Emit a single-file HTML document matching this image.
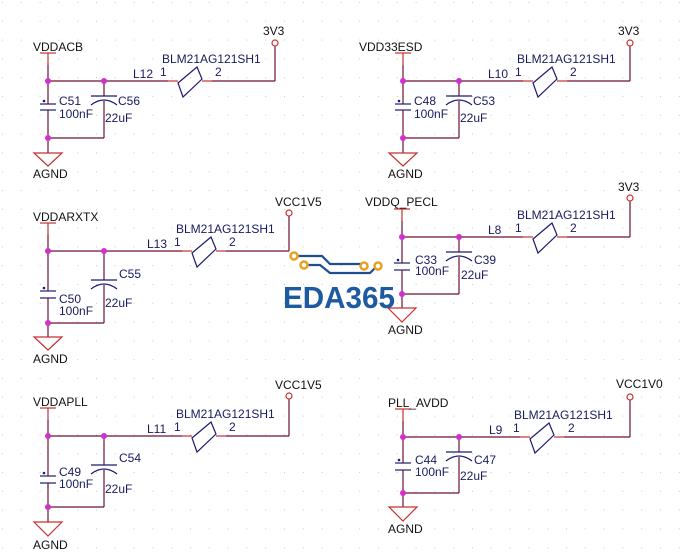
<!DOCTYPE html>
<html><head><meta charset="utf-8"><style>
html,body{margin:0;padding:0;background:#fff}
svg{display:block}
text{font-family:"Liberation Sans",sans-serif;font-size:12px;fill:#1a1a60}
.n{fill:#111}
.w{stroke:#6e1030;stroke-width:1.2;fill:none}
.r{stroke:#c83030;stroke-width:1.2;fill:none}
.b{stroke:#1a1a70;stroke-width:1.2;fill:none}
.j{fill:#d030d0}
</style></head><body>
<svg width="683" height="560" viewBox="0 0 683 560" xmlns="http://www.w3.org/2000/svg">
<defs>
<pattern id="g" x="2" y="2" width="18.8" height="18.8" patternUnits="userSpaceOnUse"><rect width="1" height="1" fill="#c8c8c8"/></pattern>
</defs>
<rect width="683" height="560" fill="url(#g)"/>

<!-- TL -->
<g transform="translate(48,81)">
<line class="r" x1="-8" y1="-28" x2="8" y2="-28"/><line class="r" x1="0" y1="-28" x2="0" y2="-16"/>
<line class="w" x1="0" y1="-16" x2="0" y2="23"/>
<line class="b" x1="-8" y1="23" x2="8" y2="23"/><line class="b" x1="-8" y1="29" x2="8" y2="29"/>
<line class="w" x1="0" y1="29" x2="0" y2="72"/>
<polygon class="r" points="-14,72 14,72 0,85"/>
<line class="w" x1="0" y1="57" x2="56" y2="57"/><line class="w" x1="56" y1="0" x2="56" y2="15"/>
<line class="b" x1="43" y1="15" x2="69" y2="15"/><path class="b" d="M43,24 Q56,14 69,24"/><line class="w" x1="56" y1="20" x2="56" y2="57"/>
<circle cx="-4" cy="20" r="1.3" fill="#1a1a70"/>
<line class="w" x1="0" y1="0" x2="120" y2="0"/><line class="r" x1="120" y1="0" x2="130" y2="0"/>
<polygon class="b" points="130,2 149,-14 154,-2 135,16"/>
<line class="r" x1="154" y1="0" x2="164" y2="0"/><line class="w" x1="164" y1="0" x2="227" y2="0"/>
<line class="w" x1="227" y1="0" x2="227" y2="-35"/><circle class="r" cx="227" cy="-38" r="3"/>
<circle class="j" cx="0" cy="0" r="3"/><circle class="j" cx="56" cy="0" r="3"/><circle class="j" cx="0" cy="57" r="3"/>
<text class="n" x="-15" y="-30">VDDACB</text><text x="85" y="-3">L12</text><text x="112" y="-5">1</text><text x="167" y="-5">2</text>
<text x="114" y="-18">BLM21AG121SH1</text><text x="11" y="24">C51</text><text x="11" y="37">100nF</text>
<text x="70" y="24">C56</text><text x="57" y="41">22uF</text><text class="n" x="-15" y="97">AGND</text><text class="n" x="215" y="-46">3V3</text>
</g>
<!-- TR -->
<g transform="translate(403,81)">
<line class="r" x1="-8" y1="-28" x2="8" y2="-28"/><line class="r" x1="0" y1="-28" x2="0" y2="-16"/>
<line class="w" x1="0" y1="-16" x2="0" y2="23"/>
<line class="b" x1="-8" y1="23" x2="8" y2="23"/><line class="b" x1="-8" y1="29" x2="8" y2="29"/>
<line class="w" x1="0" y1="29" x2="0" y2="72"/>
<polygon class="r" points="-14,72 14,72 0,85"/>
<line class="w" x1="0" y1="57" x2="56" y2="57"/><line class="w" x1="56" y1="0" x2="56" y2="15"/>
<line class="b" x1="43" y1="15" x2="69" y2="15"/><path class="b" d="M43,24 Q56,14 69,24"/><line class="w" x1="56" y1="20" x2="56" y2="57"/>
<circle cx="-4" cy="20" r="1.3" fill="#1a1a70"/>
<line class="w" x1="0" y1="0" x2="120" y2="0"/><line class="r" x1="120" y1="0" x2="130" y2="0"/>
<polygon class="b" points="130,2 149,-14 154,-2 135,16"/>
<line class="r" x1="154" y1="0" x2="164" y2="0"/><line class="w" x1="164" y1="0" x2="227" y2="0"/>
<line class="w" x1="227" y1="0" x2="227" y2="-35"/><circle class="r" cx="227" cy="-38" r="3"/>
<circle class="j" cx="0" cy="0" r="3"/><circle class="j" cx="56" cy="0" r="3"/><circle class="j" cx="0" cy="57" r="3"/>
<text class="n" x="-44" y="-30">VDD33ESD</text><text x="85" y="-3">L10</text><text x="112" y="-5">1</text><text x="167" y="-5">2</text>
<text x="114" y="-18">BLM21AG121SH1</text><text x="11" y="24">C48</text><text x="11" y="37">100nF</text>
<text x="70" y="24">C53</text><text x="57" y="41">22uF</text><text class="n" x="-15" y="97">AGND</text><text class="n" x="215" y="-46">3V3</text>
</g>
<!-- MR -->
<g transform="translate(402,237)">
<line class="r" x1="-8" y1="-28" x2="8" y2="-28"/><line class="r" x1="0" y1="-28" x2="0" y2="-16"/>
<line class="w" x1="0" y1="-16" x2="0" y2="26"/>
<line class="b" x1="-8" y1="26" x2="8" y2="26"/><line class="b" x1="-8" y1="33" x2="8" y2="33"/>
<line class="w" x1="0" y1="33" x2="0" y2="71"/>
<polygon class="r" points="-14,71 14,71 0,85"/>
<line class="w" x1="0" y1="57" x2="57" y2="57"/><line class="w" x1="57" y1="0" x2="57" y2="15"/>
<line class="b" x1="44" y1="15" x2="70" y2="15"/><path class="b" d="M44,24 Q57,14 70,24"/><line class="w" x1="57" y1="20" x2="57" y2="57"/>
<circle cx="-4" cy="23" r="1.3" fill="#1a1a70"/>
<line class="w" x1="0" y1="0" x2="121" y2="0"/><line class="r" x1="121" y1="0" x2="131" y2="0"/>
<polygon class="b" points="131,2 150,-14 155,-2 136,16"/>
<line class="r" x1="155" y1="0" x2="165" y2="0"/><line class="w" x1="165" y1="0" x2="228" y2="0"/>
<line class="w" x1="228" y1="0" x2="228" y2="-36"/><circle class="r" cx="228" cy="-39" r="3"/>
<circle class="j" cx="0" cy="0" r="3"/><circle class="j" cx="57" cy="0" r="3"/><circle class="j" cx="0" cy="57" r="3"/>
<text class="n" x="-37" y="-31">VDDQ_PECL</text><text x="86" y="-3">L8</text><text x="113" y="-5">1</text><text x="168" y="-5">2</text>
<text x="115" y="-18">BLM21AG121SH1</text><text x="13" y="27">C33</text><text x="13" y="38">100nF</text>
<text x="72" y="27">C39</text><text x="59" y="42">22uF</text><text class="n" x="-14" y="97">AGND</text><text class="n" x="216" y="-46">3V3</text>
</g>
<!-- BR -->
<g transform="translate(403,437)">
<line class="r" x1="-8" y1="-28" x2="8" y2="-28"/><line class="r" x1="0" y1="-28" x2="0" y2="-16"/>
<line class="w" x1="0" y1="-16" x2="0" y2="26"/>
<line class="b" x1="-8" y1="26" x2="8" y2="26"/><line class="b" x1="-8" y1="33" x2="8" y2="33"/>
<line class="w" x1="0" y1="33" x2="0" y2="70"/>
<polygon class="r" points="-14,70 14,70 0,84"/>
<line class="w" x1="0" y1="56" x2="56" y2="56"/><line class="w" x1="56" y1="0" x2="56" y2="15"/>
<line class="b" x1="43" y1="15" x2="69" y2="15"/><path class="b" d="M43,24 Q56,14 69,24"/><line class="w" x1="56" y1="20" x2="56" y2="56"/>
<circle cx="-4" cy="23" r="1.3" fill="#1a1a70"/>
<line class="w" x1="0" y1="0" x2="117" y2="0"/><line class="r" x1="117" y1="0" x2="127" y2="0"/>
<polygon class="b" points="127,2 146,-14 151,-2 132,16"/>
<line class="r" x1="151" y1="0" x2="161" y2="0"/><line class="w" x1="161" y1="0" x2="227" y2="0"/>
<line class="w" x1="227" y1="0" x2="227" y2="-37"/><circle class="r" cx="227" cy="-40" r="3"/>
<circle class="j" cx="0" cy="0" r="3"/><circle class="j" cx="56" cy="0" r="3"/><circle class="j" cx="0" cy="56" r="3"/>
<text class="n" x="-15" y="-30">PLL_AVDD</text><text x="86" y="-3">L9</text><text x="110" y="-5">1</text><text x="165" y="-5">2</text>
<text x="111" y="-18">BLM21AG121SH1</text><text x="12" y="27">C44</text><text x="12" y="39">100nF</text>
<text x="71" y="27">C47</text><text x="57" y="43">22uF</text><text class="n" x="-15" y="96">AGND</text><text class="n" x="213" y="-49">VCC1V0</text>
</g>
<!-- ML -->
<g transform="translate(48,251)">
<line class="r" x1="-8" y1="-28" x2="8" y2="-28"/><line class="r" x1="0" y1="-28" x2="0" y2="-16"/>
<line class="w" x1="0" y1="-16" x2="0" y2="40"/>
<line class="b" x1="-8" y1="40" x2="8" y2="40"/><line class="b" x1="-8" y1="47" x2="8" y2="47"/>
<line class="w" x1="0" y1="47" x2="0" y2="86"/>
<polygon class="r" points="-14,86 14,86 0,99"/>
<line class="w" x1="0" y1="72" x2="56" y2="72"/><line class="w" x1="56" y1="0" x2="56" y2="29"/>
<line class="b" x1="43" y1="29" x2="69" y2="29"/><path class="b" d="M43,38 Q56,28 69,38"/><line class="w" x1="56" y1="34" x2="56" y2="72"/>
<circle cx="-4" cy="37" r="1.3" fill="#1a1a70"/>
<line class="w" x1="0" y1="0" x2="134" y2="0"/><line class="r" x1="134" y1="0" x2="144" y2="0"/>
<polygon class="b" points="144,2 163,-14 168,-2 149,16"/>
<line class="r" x1="168" y1="0" x2="178" y2="0"/><line class="w" x1="178" y1="0" x2="241" y2="0"/>
<line class="w" x1="241" y1="0" x2="241" y2="-35"/><circle class="r" cx="241" cy="-38" r="3"/>
<circle class="j" cx="0" cy="0" r="3"/><circle class="j" cx="56" cy="0" r="3"/><circle class="j" cx="0" cy="72" r="3"/>
<text class="n" x="-15" y="-30">VDDARXTX</text><text x="99" y="-3">L13</text><text x="126" y="-5">1</text><text x="181" y="-5">2</text>
<text x="128" y="-18">BLM21AG121SH1</text><text x="11" y="52">C50</text><text x="11" y="64">100nF</text>
<text x="71" y="27">C55</text><text x="57" y="56">22uF</text><text class="n" x="-15" y="112">AGND</text><text class="n" x="227" y="-45">VCC1V5</text>
</g>
<!-- BL -->
<g transform="translate(48,436)">
<line class="r" x1="-8" y1="-28" x2="8" y2="-28"/><line class="r" x1="0" y1="-28" x2="0" y2="-16"/>
<line class="w" x1="0" y1="-16" x2="0" y2="40"/>
<line class="b" x1="-8" y1="40" x2="8" y2="40"/><line class="b" x1="-8" y1="47" x2="8" y2="47"/>
<line class="w" x1="0" y1="47" x2="0" y2="86"/>
<polygon class="r" points="-14,86 14,86 0,100"/>
<line class="w" x1="0" y1="71" x2="56" y2="71"/><line class="w" x1="56" y1="0" x2="56" y2="29"/>
<line class="b" x1="43" y1="29" x2="69" y2="29"/><path class="b" d="M43,38 Q56,28 69,38"/><line class="w" x1="56" y1="34" x2="56" y2="71"/>
<circle cx="-4" cy="37" r="1.3" fill="#1a1a70"/>
<line class="w" x1="0" y1="0" x2="134" y2="0"/><line class="r" x1="134" y1="0" x2="144" y2="0"/>
<polygon class="b" points="144,2 163,-14 168,-2 149,16"/>
<line class="r" x1="168" y1="0" x2="178" y2="0"/><line class="w" x1="178" y1="0" x2="241" y2="0"/>
<line class="w" x1="241" y1="0" x2="241" y2="-37"/><circle class="r" cx="241" cy="-40" r="3"/>
<circle class="j" cx="0" cy="0" r="3"/><circle class="j" cx="56" cy="0" r="3"/><circle class="j" cx="0" cy="71" r="3"/>
<text class="n" x="-15" y="-30">VDDAPLL</text><text x="99" y="-3">L11</text><text x="126" y="-5">1</text><text x="181" y="-5">2</text>
<text x="128" y="-18">BLM21AG121SH1</text><text x="11" y="40">C49</text><text x="11" y="52">100nF</text>
<text x="71" y="26">C54</text><text x="57" y="57">22uF</text><text class="n" x="-15" y="113">AGND</text><text class="n" x="227" y="-47">VCC1V5</text>
</g>

<!-- EDA365 logo -->
<g>
<path d="M296,256 L322,256 L330,264 L363,264" stroke="#1e4f90" stroke-width="2.2" fill="none"/>
<path d="M303,265 L320,265 L330,273 L370,273 L377,266" stroke="#1e4f90" stroke-width="2.2" fill="none"/>
<circle cx="294" cy="256" r="3.5" fill="#fff" stroke="#e8a020" stroke-width="2.5"/>
<circle cx="304" cy="265" r="3.5" fill="#fff" stroke="#e8a020" stroke-width="2.5"/>
<circle cx="364" cy="266" r="3.5" fill="#fff" stroke="#e8a020" stroke-width="2.5"/>
<circle cx="378" cy="266" r="3.5" fill="#fff" stroke="#e8a020" stroke-width="2.5"/>
<text x="283" y="308" style="font-size:31px;fill:#1e5aa0;font-weight:bold" textLength="112" lengthAdjust="spacingAndGlyphs">EDA365</text>
</g>
</svg>
</body></html>
